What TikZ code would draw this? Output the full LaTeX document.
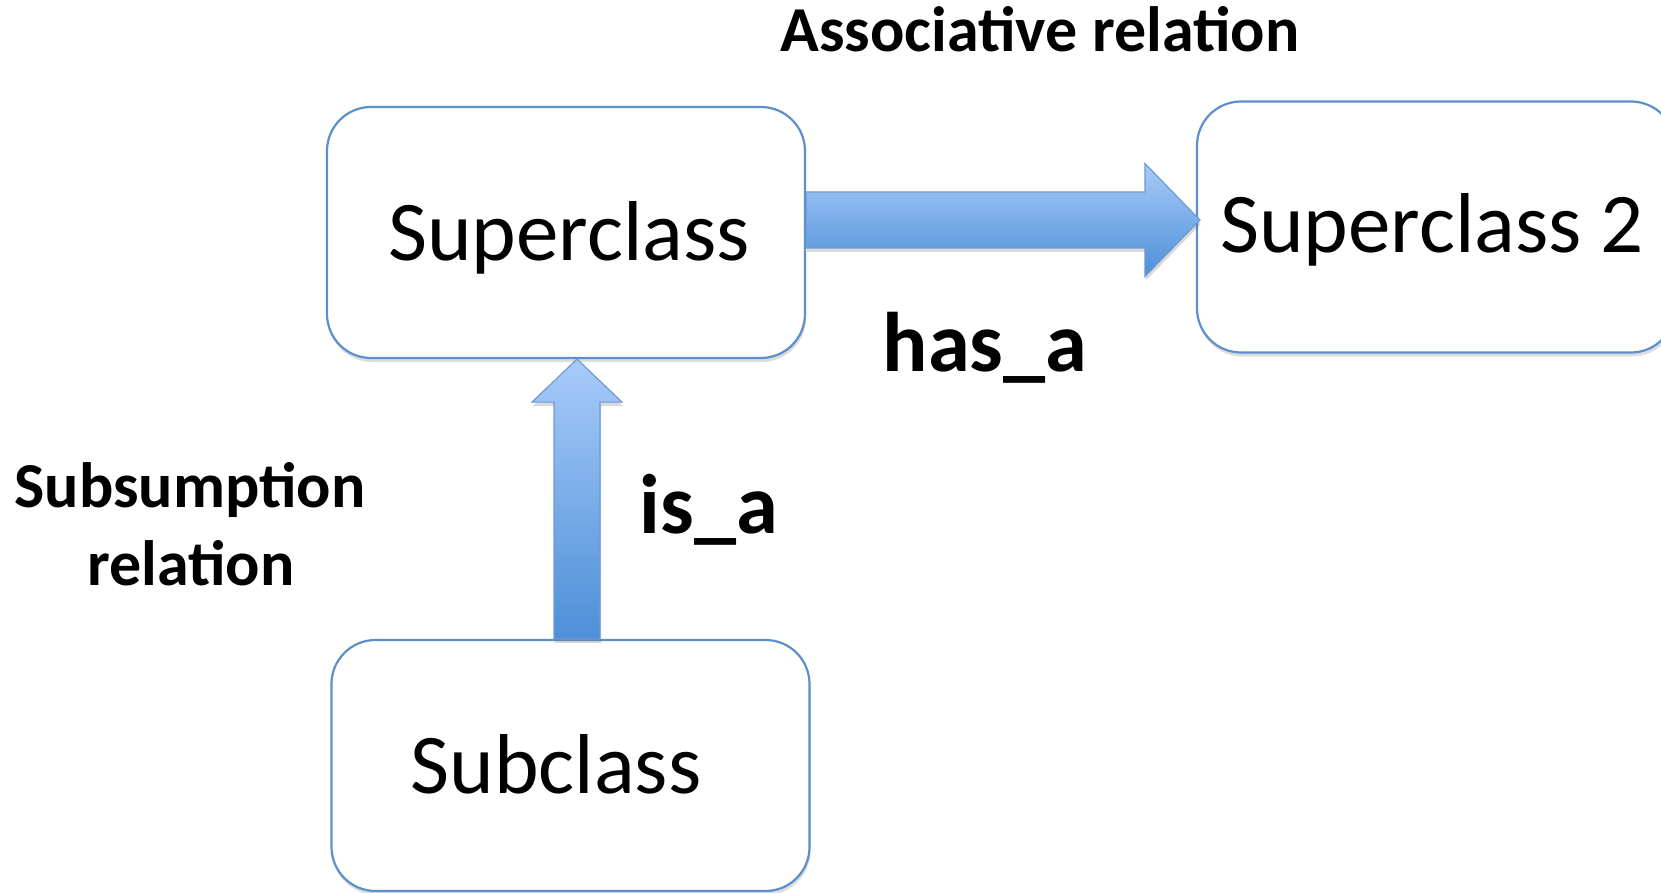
\documentclass[tikz,border=0pt]{standalone}
\usepackage{fontspec}
\setmainfont{Carlito}
\usetikzlibrary{calc,shadows}

\definecolor{edgeblue}{HTML}{5D8FCB}
\definecolor{arrowline}{HTML}{6E9BD2}
\definecolor{arrowlight}{HTML}{A7CBF9}
\definecolor{arrowdark}{HTML}{4E8FD8}

\tikzset{
  classbox/.style={draw=edgeblue, line width=2.2pt, fill=white,
    rounded corners=44pt, minimum width=478pt, minimum height=251pt,
    inner sep=0pt, anchor=center,
    drop shadow={shadow xshift=1pt, shadow yshift=-4pt, opacity=.22, fill=black!60}},
  classname/.style={anchor=base, inner sep=0pt, font=\fontsize{85}{100}\selectfont},
  relname/.style={anchor=base, inner sep=0pt, font=\bfseries\fontsize{84.5}{100}\selectfont},
  kindname/.style={anchor=base, inner sep=0pt, align=center,
    font=\bfseries\fontsize{64}{78}\selectfont},
  blockarrow/.style={draw=arrowline, line width=1.2pt, line join=miter,
    top color=arrowlight, bottom color=arrowdark,
    drop shadow={shadow xshift=1pt, shadow yshift=-4pt, opacity=.25, fill=black!60}},
}

\begin{document}
\begin{tikzpicture}[x=1pt, y=-1pt]
  \useasboundingbox (0,0) rectangle (1661,893);

  % class boxes
  \node[classbox] (sup)  at (566,232.5) {};
  \node[classbox] (sup2) at (1436,227)  {};
  \node[classbox] (sub)  at (570.5,765.5) {};

  % class names
  \node[classname] (supname)  at (569,260)  {Superclass};
  \node[classname] (sup2name) at (1432,253) {Superclass 2};
  \node[classname] (subname)  at (556,793)  {Subclass};

  % reference lines for the two block arrows
  \coordinate (isx) at (577,0);
  \coordinate (hasy) at (0,220);

  % is_a: block arrow from the subclass up to the superclass
  \coordinate (isBase) at (sub.north -| isx);
  \coordinate (isTip)  at (sup.south -| isx);
  \path[blockarrow]
    (isTip) -- ($(isTip)+(45,43)$) -- ($(isTip)+(23,43)$)
    -- ($(isBase)+(23,0)$) -- ($(isBase)+(-23,0)$)
    -- ($(isTip)+(-23,43)$) -- ($(isTip)+(-45,43)$) -- cycle;

  % has_a: block arrow from the superclass to superclass 2
  \coordinate (hasBase) at (sup.east |- hasy);
  \coordinate (hasTip)  at ($(sup2.west |- hasy)+(4,0)$);
  \path[blockarrow]
    ($(hasBase)+(0,-28)$) -- ($(hasTip)+(-55,-28)$) -- ($(hasTip)+(-55,-56.5)$)
    -- (hasTip) -- ($(hasTip)+(-55,56.5)$) -- ($(hasTip)+(-55,28)$)
    -- ($(hasBase)+(0,28)$) -- cycle;

  % relation labels
  \node[relname] (hasa) at (985,371) {has\_a};
  \node[relname] (isa)  at (709,533) {is\_a};

  % relation kinds
  \node[kindname] (assoc) at (1040,52) {Associative relation};
  \node[kindname] (subs1) at (190,507) {Subsumption};
  \node[kindname] (subs2) at (191,585) {relation};
\end{tikzpicture}
\end{document}
